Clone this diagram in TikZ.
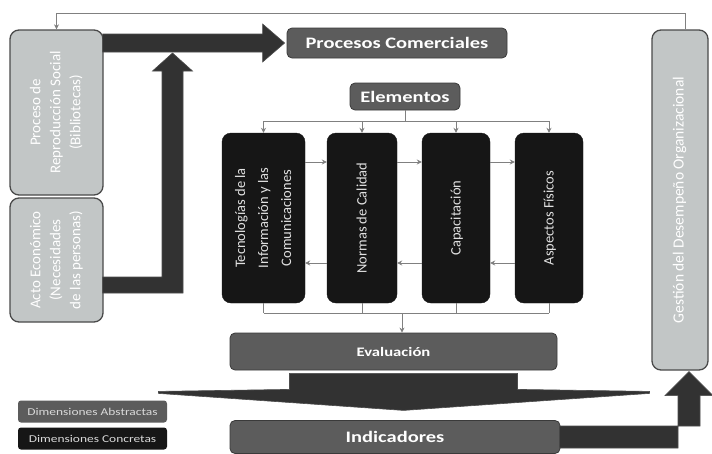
\documentclass[tikz,border=0pt]{standalone}
\usepackage{fontspec}
\setmainfont{Carlito}
\newfontfamily\widesans[FakeStretch=1.28]{Carlito}
\usetikzlibrary{calc,arrows.meta}

\definecolor{softfill}{HTML}{C2C6C6}
\definecolor{softedge}{HTML}{4A4A4A}
\definecolor{midfill}{HTML}{5C5C5C}
\definecolor{midedge}{HTML}{3A3A3A}
\definecolor{deepfill}{HTML}{161616}
\definecolor{bandfill}{HTML}{323232}
\definecolor{wire}{HTML}{808080}

% rotated multi-line label, read from bottom to top
\newcommand\uplines[1]{\rotatebox{90}{\begin{tabular}{@{}c@{}}#1\end{tabular}}}

\tikzset{
  softbox/.style={draw=softedge, fill=softfill, line width=1.3pt, rounded corners=9pt,
    text=white, inner sep=0pt, font=\fontsize{15}{20}\selectfont},
  midbox/.style={draw=midedge, fill=midfill, line width=0.8pt, rounded corners=5pt,
    text=white, inner sep=0pt},
  deepbox/.style={fill=deepfill, draw=deepfill, rounded corners=9pt, text=white!88!black,
    inner sep=0pt, minimum height=170pt, font=\fontsize{14.5}{23}\selectfont},
  keybox/.style={rounded corners=3pt, text=white!85!black, inner sep=0pt,
    minimum width=149pt, minimum height=22pt, font=\widesans\fontsize{10.5}{12}\selectfont},
  wireline/.style={draw=wire, line width=0.9pt},
  wirearrow/.style={wireline, -{Stealth[length=5pt,width=5pt]}},
  band/.style={fill=bandfill, draw=black!70, line width=0.6pt}
}

\begin{document}
\begin{tikzpicture}[x=1pt,y=-1pt]
\useasboundingbox[fill=white] (0,0) rectangle (712,453);

% side dimensions
\node[softbox, minimum width=93pt, minimum height=165pt] (LT) at (56.5,112.5)
  {\uplines{Proceso de\\Reproducción Social\\(Bibliotecas)}};
\node[softbox, minimum width=93pt, minimum height=124pt] (LB) at (56.5,260)
  {\uplines{Acto Económico\\(Necesidades\\de las personas)}};
\node[softbox, minimum width=56pt, minimum height=340pt, font=\fontsize{15.5}{18}\selectfont] (R) at (680,200)
  {\uplines{Gestión del Desempeño Organizacional}};

% central chain
\node[midbox, minimum width=220pt, minimum height=30pt, font=\widesans\bfseries\fontsize{16}{18}\selectfont] (PC) at (397,43)
  {Procesos Comerciales};
\node[midbox, minimum width=110pt, minimum height=27pt, font=\widesans\bfseries\fontsize{16}{18}\selectfont] (EL) at (405,96.5)
  {Elementos};

\node[deepbox, minimum width=83pt] (B1) at (263.5,218)
  {\uplines{Tecnologías de la\\Información y las\\Comunicaciones}};
\node[deepbox, minimum width=70pt] (B2) at (362,218) {\uplines{Normas de Calidad}};
\node[deepbox, minimum width=68pt] (B3) at (456,218) {\uplines{Capacitación}};
\node[deepbox, minimum width=68pt] (B4) at (549,218) {\uplines{Aspectos Físicos}};

\node[midbox, minimum width=327pt, minimum height=37pt, font=\widesans\bfseries\fontsize{13}{16}\selectfont] (EV) at (393.5,351.5)
  {Evaluación};
\node[midbox, minimum width=330pt, minimum height=33pt, font=\widesans\bfseries\fontsize{16}{19}\selectfont] (IND) at (395,437)
  {Indicadores};

% legend
\node[keybox, fill=midfill] (KA) at (92.5,411.5) {Dimensiones Abstractas};
\node[keybox, fill=deepfill] (KC) at (92.5,438.5) {Dimensiones Concretas};

% feedback from the right column back to the first stage
\draw[wirearrow, line width=0.8pt] ($(R.north)+(5,0)$) |- ($(LT.north)+(0,-16)$) -- (LT.north);

% distribution to the four elements
\coordinate (split) at ($(EL.south)+(0,11)$);
\draw[wireline] (EL.south) -- (split);
\draw[wireline] (B1.north |- split) -- (B4.north |- split);
\foreach \b in {B1,B2,B3,B4}
  \draw[wirearrow] (\b.north |- split) -- (\b.north);

% links between neighbouring elements
\draw[wirearrow] ($(B1.east)+(0,-56)$) -- ($(B2.west)+(0,-56)$);
\draw[wirearrow] ($(B2.east)+(0,-56)$) -- ($(B3.west)+(0,-56)$);
\draw[wirearrow] ($(B3.east)+(0,-56)$) -- ($(B4.west)+(0,-56)$);
\draw[wirearrow] ($(B4.west)+(0,45)$) -- ($(B3.east)+(0,45)$);
\draw[wirearrow] ($(B3.west)+(0,45)$) -- ($(B2.east)+(0,45)$);
\draw[wirearrow] ($(B2.west)+(0,45)$) -- ($(B1.east)+(0,45)$);

% collection into the evaluation stage
\coordinate (merge) at (402,313);
\foreach \b in {B1,B2,B3,B4}
  \draw[wireline] (\b.south) -- (\b.south |- merge);
\draw[wireline] (B1.south |- merge) -- (B4.south |- merge);
\draw[wirearrow] (merge) -- (merge |- EV.north);

% broad arrow from the upper left stage into the commercial processes
\coordinate (s1) at (LT.east |- PC.west);
\fill[band] ($(s1)+(-1,-9)$) -- ($(PC.west)+(-24,-9)$) -- ($(PC.west)+(-24,-19)$)
  -- ($(PC.west)+(-2,0)$) -- ($(PC.west)+(-24,19)$) -- ($(PC.west)+(-24,9)$)
  -- ($(s1)+(-1,9)$) -- cycle;

% broad arrow rising from the lower left stage
\coordinate (k2) at (172.5,285);
\coordinate (t2) at (172.5,53);
\fill[band] ($(LB.east|-k2)+(-1,-8)$) -- ($(k2)+(-10.5,-8)$) -- ($(t2)+(-10.5,18)$)
  -- ($(t2)+(-20,18)$) -- (t2) -- ($(t2)+(20,18)$) -- ($(t2)+(10.5,18)$)
  -- ($(k2)+(10.5,8)$) -- ($(LB.east|-k2)+(-1,8)$) -- cycle;

% broad arrow from the indicators up to the right column
\coordinate (k3) at (689,437);
\coordinate (t3) at ($(R.south)+(9,1)$);
\fill[band] ($(IND.east|-k3)+(-1,-11)$) -- ($(k3)+(11,-11)$) -- ($(k3|-t3)+(11,24)$)
  -- ($(k3|-t3)+(24,24)$) -- (k3|-t3) -- ($(k3|-t3)+(-24,24)$) -- ($(k3|-t3)+(-11,24)$)
  -- ($(k3)+(-11,11)$) -- ($(IND.east|-k3)+(-1,11)$) -- cycle;

% wide funnel arrow between evaluation and indicators
\coordinate (f) at ($(EV.south)+(10,0)$);
\fill[band] ($(f)+(-245,21)$) -- ($(f)+(-114,19)$) -- ($(f)+(-114,3)$) -- ($(f)+(114,3)$)
  -- ($(f)+(114,19)$) -- ($(f)+(246,21)$) -- ($(f)+(246,23)$) -- ($(f)+(0,40)$)
  -- ($(f)+(-245,23)$) -- cycle;
\end{tikzpicture}
\end{document}
